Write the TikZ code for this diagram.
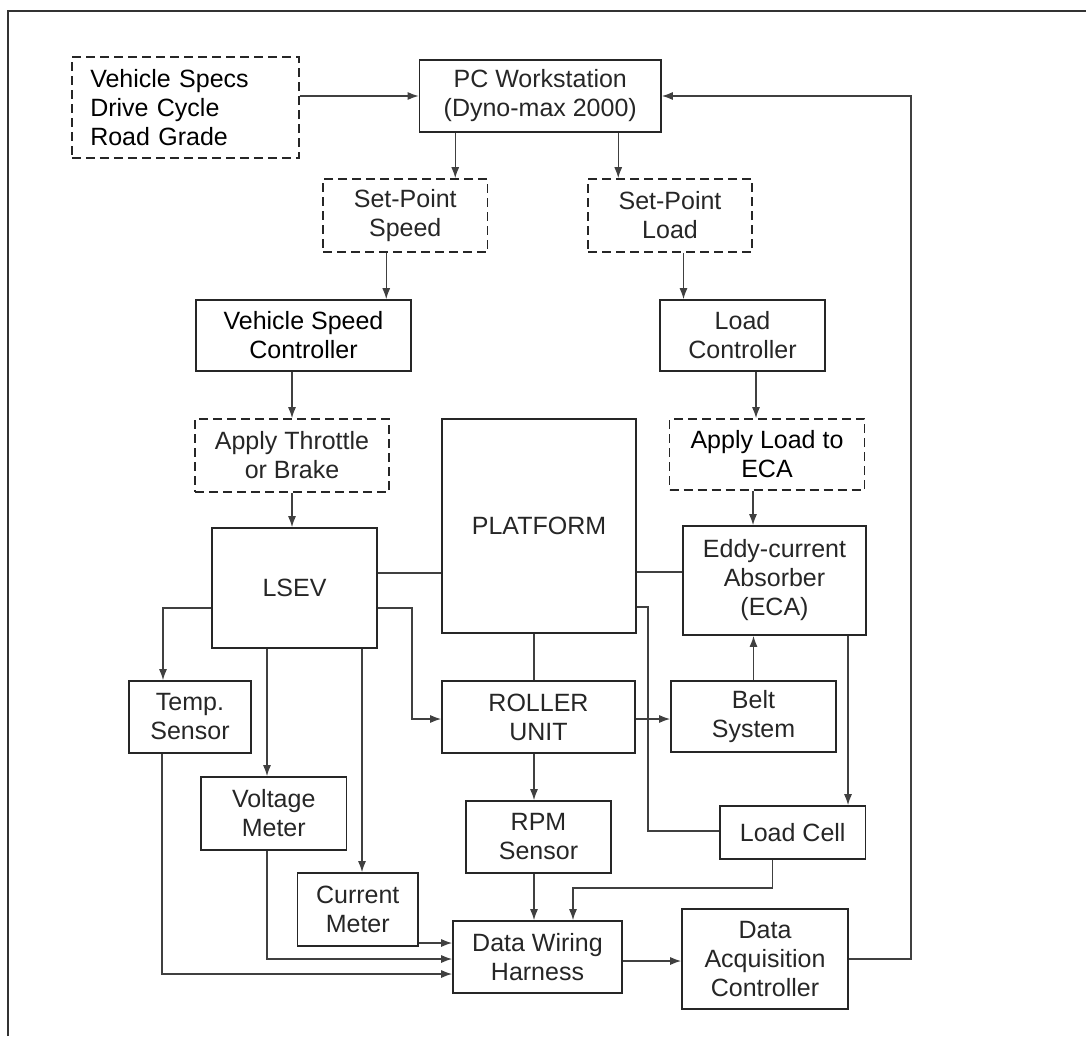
\documentclass[tikz,border=0pt]{standalone}
\usepackage{fontspec}
\setmainfont{Liberation Sans}
\usetikzlibrary{arrows.meta}
\tikzset{
    blk/.style={
        draw=black!85,
        line width=1.6pt,
        inner sep=0pt,
        align=center,
        text=black!85,
        font=\fontsize{25}{29}\selectfont},
    dashblk/.style={
        blk,
        dash pattern=on 9pt off 5pt},
    link/.style={
        draw=black!75,
        line width=1.4pt},
    arr/.style={
        link,
        -{Latex[length=11pt,width=8pt]}}}

\begin{document}
\begin{tikzpicture}[x=1pt,y=-1pt]
    \useasboundingbox (0,0) rectangle (1086,1036);
    \draw[line width=1.4pt,black!80] (8,1036) -- (8,11) -- (1086,11);

    % top row
    \node[dashblk, minimum width=217.5pt, minimum height=101pt, align=left,
        text width=190pt, inner xsep=18.5pt, text=black] (specs) at (185.25,107.5)
        {Vehicle Specs\\Drive Cycle\\Road Grade};
    \node[blk, minimum width=241.5pt, minimum height=72pt] (pc) at (540.25,96) {PC Workstation\\(Dyno-max 2000)};

    % set points and controllers
    \node[dashblk, minimum width=164.5pt, minimum height=73pt] (spspeed) at (405.25,215.5) {Set-Point\\Speed};
    \node[dashblk, minimum width=164pt, minimum height=73pt] (spload) at (670,215.5) {Set-Point\\Load};
    \node[blk, minimum width=215pt, minimum height=71pt, text=black] (vsc) at (303.5,335.5) {Vehicle Speed\\Controller};
    \node[blk, minimum width=165pt, minimum height=71pt] (lc) at (742.5,335.5) {Load\\Controller};
    \node[dashblk, minimum width=194pt, minimum height=73pt] (throttle) at (292,455.5) {Apply Throttle\\or Brake};
    \node[dashblk, minimum width=195pt, minimum height=71pt, text=black] (applyload) at (767,454.5) {Apply Load to\\ECA};

    % vehicle and dyno
    \node[blk, minimum width=165pt, minimum height=120pt] (lsev) at (294.5,588) {LSEV};
    \node[blk, minimum width=194pt, minimum height=214pt] (platform) at (539,526) {PLATFORM};
    \node[blk, minimum width=183pt, minimum height=109pt] (eca) at (774.5,580.5) {Eddy-current\\Absorber\\(ECA)};
    \node[blk, minimum width=121.5pt, minimum height=72pt] (temp) at (190,717) {Temp.\\Sensor};
    \node[blk, minimum width=193pt, minimum height=72pt] (roller) at (538.5,717) {ROLLER\\UNIT};
    \node[blk, minimum width=165pt, minimum height=71pt] (belt) at (753.5,716.5) {Belt\\System};

    % measurement
    \node[blk, minimum width=145.5pt, minimum height=73pt] (voltage) at (273.75,813.5) {Voltage\\Meter};
    \node[blk, minimum width=145pt, minimum height=72pt] (rpm) at (538.5,837) {RPM\\Sensor};
    \node[blk, minimum width=145.5pt, minimum height=53pt] (loadcell) at (792.75,832.5) {Load Cell};
    \node[blk, minimum width=120.5pt, minimum height=73pt] (current) at (357.75,909.5) {Current\\Meter};
    \node[blk, minimum width=169pt, minimum height=72pt] (dwh) at (537.5,957) {Data Wiring\\Harness};
    \node[blk, minimum width=166pt, minimum height=100pt] (daq) at (765,959) {Data\\Acquisition\\Controller};

    % control path
    \draw[arr] (specs.east |- pc.west) -- (pc.west);
    \draw[arr] ([xshift=-85pt]pc.south) -- ([xshift=-85pt]pc.south |- spspeed.north);
    \draw[arr] ([xshift=78pt]pc.south) -- ([xshift=78pt]pc.south |- spload.north);
    \draw[arr] ([xshift=-19pt]spspeed.south) -- ([xshift=-19pt]spspeed.south |- vsc.north);
    \draw[arr] ([xshift=13.5pt]spload.south) -- ([xshift=13.5pt]spload.south |- lc.north);
    \draw[arr] (vsc.south -| throttle.north) -- (throttle.north);
    \draw[arr] ([xshift=-11pt]applyload.north |- lc.south) -- ([xshift=-11pt]applyload.north);
    \draw[arr] (throttle.south) -- (throttle.south |- lsev.north);
    \draw[arr] ([xshift=-14pt]applyload.south) -- ([xshift=-14pt]applyload.south |- eca.north);

    % mechanical links
    \draw[link] ([yshift=15pt]lsev.east) -- ([yshift=15pt]lsev.east -| platform.west);
    \draw[link] ([yshift=8.5pt]eca.west) -- ([yshift=8.5pt]eca.west -| platform.east);
    \draw[link] ([xshift=-5pt]platform.south) -- ([xshift=-5pt]platform.south |- roller.north);
    \draw[arr] ([yshift=-20pt]lsev.west) -| ([xshift=-27pt]temp.north);
    \draw[arr] ([yshift=-20pt]lsev.east) -- ++(34,0) |- ([yshift=-2pt]roller.west);
    \draw[arr] ([xshift=-27.5pt]lsev.south) -- ([xshift=-27.5pt]lsev.south |- voltage.north);
    \draw[arr] ([xshift=67.5pt]lsev.south) -- ([xshift=67.5pt]lsev.south |- current.north);
    \draw[arr] ([yshift=-2pt]roller.east) -- ([yshift=-2pt]roller.east -| belt.west);
    \draw[arr] (belt.north) -- (belt.north |- eca.south);
    \draw[link] ([yshift=-81pt]platform.east) -- ++(11,0) |- ([yshift=1.5pt]loadcell.west);
    \draw[arr] ([xshift=73.5pt]eca.south) -- ([xshift=73.5pt]eca.south |- loadcell.north);
    \draw[arr] ([xshift=-4.5pt]roller.south) -- ([xshift=-4.5pt]roller.south |- rpm.north);

    % data lines
    \draw[arr] ([xshift=-4.5pt]rpm.south) -- ([xshift=-4.5pt]rpm.south |- dwh.north);
    \draw[arr] ([xshift=-20pt]loadcell.south) -- ++(0,28) -| ([xshift=35.5pt]dwh.north);
    \draw[arr] ([yshift=-33.5pt]current.east) -- ([yshift=-33.5pt]current.east -| dwh.west);
    \draw[arr] ([xshift=-6.75pt]voltage.south) |- ([yshift=-2pt]dwh.west);
    \draw[arr] ([xshift=-28pt]temp.south) |- ([yshift=-17pt]dwh.west);
    \draw[arr] ([yshift=-4pt]dwh.east) -- ([yshift=-4pt]dwh.east -| daq.west);
    \draw[arr] (daq.east) -- ++(62,0) |- (pc.east);
\end{tikzpicture}
\end{document}
